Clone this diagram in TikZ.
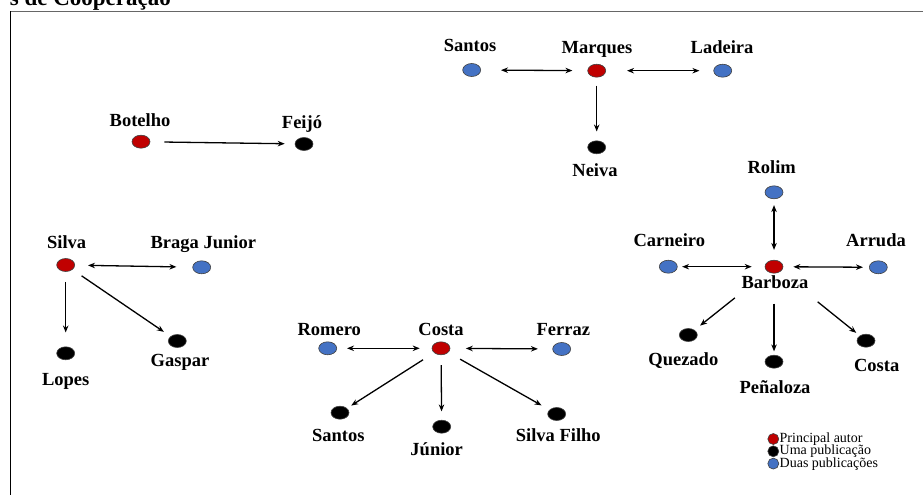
\documentclass[tikz,border=0pt]{standalone}
\usepackage{fontspec}
\setmainfont{Liberation Serif}
\usetikzlibrary{arrows.meta,shapes.geometric}
\definecolor{authred}{HTML}{C00000}
\definecolor{pubblue}{HTML}{4472C4}
\begin{document}
\begin{tikzpicture}[x=1pt,y=-1pt,
  dot/.style={ellipse, minimum width=18pt, minimum height=13pt, inner sep=0pt, draw=black!75, line width=0.6pt},
  redn/.style={dot, fill=authred},
  bluen/.style={dot, fill=pubblue},
  blackn/.style={dot, fill=black},
  lbl/.style={font=\fontsize{18.5}{20}\selectfont\bfseries, anchor=base, inner sep=0pt},
  legdot/.style={circle, minimum size=11pt, inner sep=0pt, draw=black!75, line width=0.6pt},
  legtxt/.style={font=\fontsize{14}{16}\selectfont, anchor=base west, inner sep=0pt, text height=8.6pt, text depth=2.6pt},
  uni/.style={-{Stealth[length=7pt,width=5.5pt]}, line width=1.3pt},
  bi/.style={{Stealth[length=7pt,width=5.5pt]}-{Stealth[length=7pt,width=5.5pt]}, line width=1.3pt}
]
\useasboundingbox (0,0) rectangle (923,495);
\begin{scope}
\clip (0,0) rectangle (923,495);
\node[font=\fontsize{23}{25}\selectfont\bfseries, anchor=base east, inner sep=0pt] (title) at (171,5.7) {s de Cooperação};
\end{scope}
\coordinate (frTL) at (10.5,11.5);
\coordinate (frTR) at (923,11.5);
\coordinate (frBL) at (10.5,495);
\draw[line width=1.4pt, black!60] (frTL) -- (frTR);
\draw[line width=1.4pt, black] (frTL) -- (frBL);

% Marques group
\node[bluen] (santosA) at (471.7,70) {};
\node[redn] (marques) at (596.7,70.7) {};
\node[bluen] (ladeira) at (722.7,70.7) {};
\node[blackn] (neiva) at (596.7,147.3) {};
\node[lbl] (lsantosA) at (470,51.7) {Santos};
\node[lbl] (lmarques) at (597,53.3) {Marques};
\node[lbl] (lladeira) at (722,53.3) {Ladeira};
\node[lbl] (lneiva) at (595,176.7) {Neiva};
\draw[bi, shorten <=15pt, shorten >=20pt] (marques) -- (santosA);
\draw[bi, shorten <=21pt, shorten >=14pt] (marques) -- (ladeira);
\draw[uni, shorten <=8pt, shorten >=9pt] (marques) -- (neiva);

% Botelho group
\node[redn] (botelho) at (141,141.7) {};
\node[blackn] (feijo) at (304,144) {};
\node[lbl] (lbotelho) at (140,126.7) {Botelho};
\node[lbl] (lfeijo) at (302,128.3) {Feijó};
\draw[uni, shorten <=14pt, shorten >=10pt] (botelho) -- (feijo);

% Silva group
\node[redn] (silva) at (65.7,265) {};
\node[bluen] (braga) at (201.7,267.3) {};
\node[blackn] (lopes) at (65.7,353.3) {};
\node[blackn] (gaspar) at (177.3,341) {};
\node[lbl] (lsilva) at (66.7,248.3) {Silva};
\node[lbl] (lbraga) at (203.3,248.3) {Braga Junior};
\node[lbl] (llopes) at (65.7,385) {Lopes};
\node[lbl] (lgaspar) at (180,366.7) {Gaspar};
\draw[bi, shorten <=13pt, shorten >=16pt] (silva) -- (braga);
\draw[uni, shorten <=10pt, shorten >=14pt] (silva) -- (lopes);
\draw[uni, shorten <=11pt, shorten >=8pt] (silva) -- (gaspar);

% Costa group
\node[bluen] (romero) at (327.7,348.3) {};
\node[redn] (costaA) at (441,348.3) {};
\node[bluen] (ferraz) at (561.7,349) {};
\node[blackn] (santosB) at (340,412.7) {};
\node[blackn] (junior) at (441.7,426.7) {};
\node[blackn] (silvaf) at (556.7,414) {};
\node[lbl] (lromero) at (329.3,335) {Romero};
\node[lbl] (lcostaA) at (441,335) {Costa};
\node[lbl] (lferraz) at (563.3,335) {Ferraz};
\node[lbl] (lsantosB) at (338.3,441.7) {Santos};
\node[lbl] (ljunior) at (436.7,455) {Júnior};
\node[lbl] (lsilvaf) at (558.3,441.7) {Silva Filho};
\draw[bi, shorten <=12pt, shorten >=10pt] (costaA) -- (romero);
\draw[bi, shorten <=15.5pt, shorten >=14.5pt] (costaA) -- (ferraz);
\draw[uni, shorten <=13pt, shorten >=5pt] (costaA) -- (santosB);
\draw[uni, shorten <=10pt, shorten >=8.5pt] (costaA) -- (junior);
\draw[uni, shorten <=13.5pt, shorten >=9pt] (costaA) -- (silvaf);

% Barboza group
\node[bluen] (rolim) at (774,192.3) {};
\node[bluen] (carneiro) at (668.3,266.7) {};
\node[redn] (barboza) at (774,266.7) {};
\node[bluen] (arruda) at (878.3,267.3) {};
\node[blackn] (quezado) at (688.3,335) {};
\node[blackn] (penaloza) at (774,361.7) {};
\node[blackn] (costaB) at (866,340.7) {};
\node[lbl] (lrolim) at (771.7,173.3) {Rolim};
\node[lbl] (lcarneiro) at (669.3,246.7) {Carneiro};
\node[lbl] (larruda) at (876,246.7) {Arruda};
\node[lbl] (lbarboza) at (775,288.3) {Barboza};
\node[lbl] (lquezado) at (683.3,365) {Quezado};
\node[lbl] (lcostaB) at (876.7,371.7) {Costa};
\node[lbl] (lpenaloza) at (775,393.3) {Peñaloza};
\draw[bi, shorten <=10pt, shorten >=6pt] (barboza) -- (rolim);
\draw[bi, shorten <=13pt, shorten >=4.5pt] (barboza) -- (carneiro);
\draw[bi, shorten <=10pt, shorten >=6pt] (barboza) -- (arruda);
\draw[uni, shorten <=42pt, shorten >=7pt] (barboza) -- (quezado);
\draw[uni, shorten <=30pt, shorten >=3.5pt] (barboza) -- (penaloza);
\draw[uni, shorten <=48pt, shorten >=4.5pt] (barboza) -- (costaB);

% Legend
\node[legdot, fill=authred] (leg1) at (773.3,439) {};
\node[legdot, fill=black] (leg2) at (773.3,451.3) {};
\node[legdot, fill=pubblue] (leg3) at (773.3,463.6) {};
\node[legtxt] (legt1) at (779.5,442.4) {Principal autor};
\node[legtxt] (legt2) at (779.5,454.7) {Uma publicação};
\node[legtxt] (legt3) at (779.5,467) {Duas publicações};
\end{tikzpicture}
\end{document}
